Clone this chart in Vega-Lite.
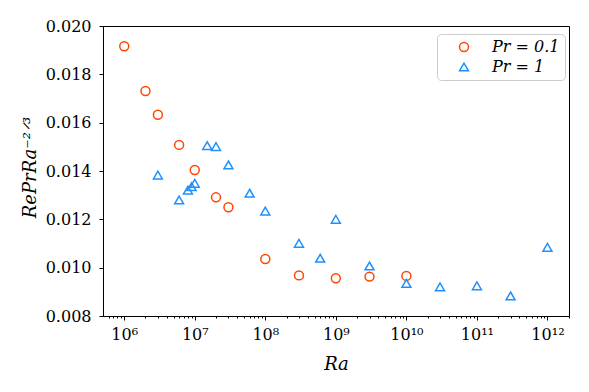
{
  "$schema": "https://vega.github.io/schema/vega-lite/v6.json",
  "autosize": {"type": "none"},
  "padding": {"left": 103, "top": 26, "right": 20, "bottom": 76},
  "width": 466,
  "height": 290,
  "background": "white",
  "config": {
    "font": "DejaVu Serif",
    "view": {"stroke": "black", "strokeWidth": 1},
    "axis": {"domainColor": "black", "tickColor": "black", "labelColor": "black", "titleColor": "black", "grid": false}
  },
  "data": {
    "values": [
      {"Ra": 1e6, "val": 0.01916, "Pr": "0.1"},
      {"Ra": 2e6, "val": 0.01731, "Pr": "0.1"},
      {"Ra": 3e6, "val": 0.01633, "Pr": "0.1"},
      {"Ra": 6e6, "val": 0.01508, "Pr": "0.1"},
      {"Ra": 1e7, "val": 0.01404, "Pr": "0.1"},
      {"Ra": 2e7, "val": 0.01291, "Pr": "0.1"},
      {"Ra": 3e7, "val": 0.0125, "Pr": "0.1"},
      {"Ra": 1e8, "val": 0.01036, "Pr": "0.1"},
      {"Ra": 3e8, "val": 0.00968, "Pr": "0.1"},
      {"Ra": 1e9, "val": 0.00956, "Pr": "0.1"},
      {"Ra": 3e9, "val": 0.00963, "Pr": "0.1"},
      {"Ra": 1e10, "val": 0.00966, "Pr": "0.1"},
      {"Ra": 3e6, "val": 0.01383, "Pr": "1"},
      {"Ra": 6e6, "val": 0.0128, "Pr": "1"},
      {"Ra": 8e6, "val": 0.01321, "Pr": "1"},
      {"Ra": 9e6, "val": 0.01335, "Pr": "1"},
      {"Ra": 1e7, "val": 0.01349, "Pr": "1"},
      {"Ra": 1.5e7, "val": 0.01505, "Pr": "1"},
      {"Ra": 2e7, "val": 0.01501, "Pr": "1"},
      {"Ra": 3e7, "val": 0.01425, "Pr": "1"},
      {"Ra": 6e7, "val": 0.01308, "Pr": "1"},
      {"Ra": 1e8, "val": 0.01234, "Pr": "1"},
      {"Ra": 3e8, "val": 0.01101, "Pr": "1"},
      {"Ra": 6e8, "val": 0.01039, "Pr": "1"},
      {"Ra": 1e9, "val": 0.0120, "Pr": "1"},
      {"Ra": 3e9, "val": 0.01007, "Pr": "1"},
      {"Ra": 1e10, "val": 0.00935, "Pr": "1"},
      {"Ra": 3e10, "val": 0.00921, "Pr": "1"},
      {"Ra": 1e11, "val": 0.00925, "Pr": "1"},
      {"Ra": 3e11, "val": 0.00883, "Pr": "1"},
      {"Ra": 1e12, "val": 0.01084, "Pr": "1"}
    ]
  },
  "mark": {"type": "point", "filled": false, "size": 80, "strokeWidth": 1.5, "opacity": 1},
  "encoding": {
    "x": {
      "field": "Ra", "type": "quantitative",
      "scale": {"type": "log", "domain": [500000, 2020000000000], "nice": false},
      "axis": {
        "title": "Ra",
        "titleFont": "DejaVu Serif", "titleFontStyle": "italic", "titleFontWeight": "normal", "titleFontSize": 18,
        "titleY": 53, "titleBaseline": "alphabetic",
        "values": [600000, 700000, 800000, 900000, 1000000, 2000000, 3000000, 4000000, 5000000, 6000000, 7000000, 8000000, 9000000, 10000000, 20000000, 30000000, 40000000, 50000000, 60000000, 70000000, 80000000, 90000000, 100000000, 200000000, 300000000, 400000000, 500000000, 600000000, 700000000, 800000000, 900000000, 1000000000, 2000000000, 3000000000, 4000000000, 5000000000, 6000000000, 7000000000, 8000000000, 9000000000, 10000000000, 20000000000, 30000000000, 40000000000, 50000000000, 60000000000, 70000000000, 80000000000, 90000000000, 100000000000, 200000000000, 300000000000, 400000000000, 500000000000, 600000000000, 700000000000, 800000000000, 900000000000, 1000000000000, 2000000000000],
        "labelExpr": "datum.value==1e6?'10⁶':datum.value==1e7?'10⁷':datum.value==1e8?'10⁸':datum.value==1e9?'10⁹':datum.value==1e10?'10¹⁰':datum.value==1e11?'10¹¹':datum.value==1e12?'10¹²':''",
        "labelFont": "DejaVu Serif",
        "labelFontSize": 16, "labelPadding": 6, "labelFlush": false, "labelOverlap": false,
        "tickSize": {"condition": {"test": "indexof([1e6,1e7,1e8,1e9,1e10,1e11,1e12], datum.value) >= 0", "value": 4}, "value": 2},
        "tickWidth": 1
      }
    },
    "y": {
      "field": "val", "type": "quantitative",
      "scale": {"domain": [0.008, 0.020], "nice": false, "zero": false},
      "axis": {
        "title": "RePrRa⁻²ᐟ³",
        "titleFont": "DejaVu Serif", "titleFontStyle": "italic", "titleFontWeight": "normal", "titleFontSize": 18,
        "titleX": -68, "titleY": 141, "titleBaseline": "alphabetic", "titleAlign": "center", "titleAngle": -90,
        "values": [0.008, 0.010, 0.012, 0.014, 0.016, 0.018, 0.020],
        "format": ".3f",
        "labelFont": "DejaVu Serif",
        "labelFontSize": 16, "labelPadding": 8, "tickSize": 4, "tickWidth": 1, "labelFlush": false
      }
    },
    "color": {
      "field": "Pr", "type": "nominal",
      "scale": {"domain": ["0.1", "1"], "range": ["#ff4500", "#1e90ff"]},
      "legend": {
        "title": null, "orient": "none", "legendX": 334, "legendY": 8,
        "strokeColor": "#cccccc", "fillColor": "rgba(255,255,255,0.85)", "cornerRadius": 4,
        "padding": 5, "symbolOffset": 14, "labelOffset": 20, "symbolSize": 80, "symbolStrokeWidth": 1.5,
        "labelFontSize": 16, "labelFont": "DejaVu Serif", "labelFontStyle": "italic", "rowPadding": 4,
        "labelExpr": "'Pr = ' + datum.label"
      }
    },
    "shape": {
      "field": "Pr", "type": "nominal",
      "scale": {"domain": ["0.1", "1"], "range": ["circle", "triangle-up"]}
    }
  }
}
